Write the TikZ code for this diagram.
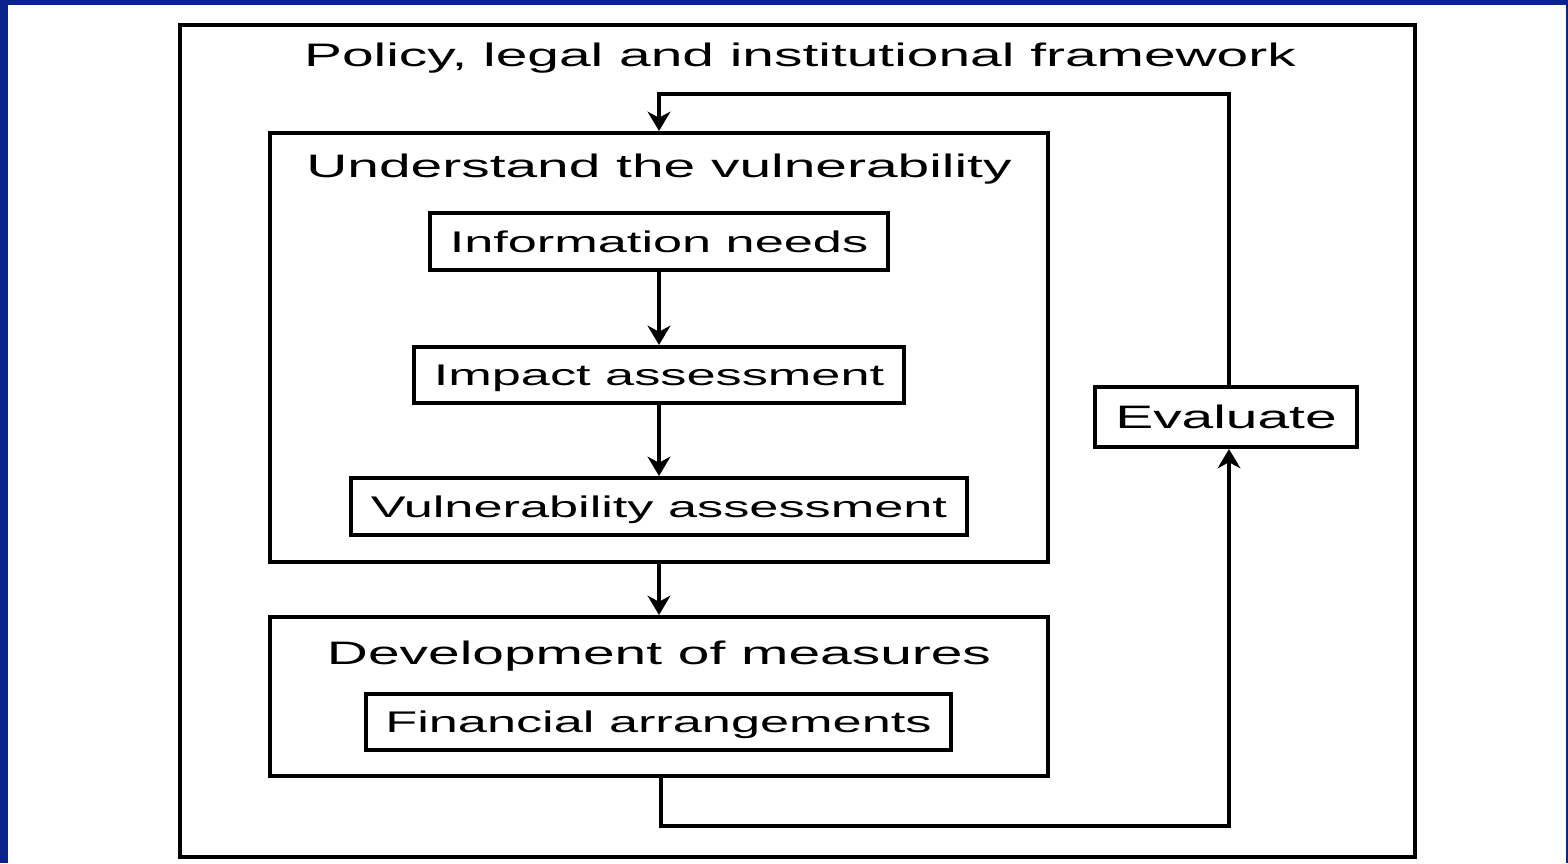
\documentclass[tikz,border=0pt]{standalone}
\usepackage{fontspec}
\setmainfont[FakeStretch=1.75]{Liberation Sans}
\usetikzlibrary{positioning, arrows.meta}
\definecolor{slideblue}{RGB}{12,34,140}
\newcommand{\bigtext}{\fontsize{18.5pt}{21pt}\selectfont}
\newcommand{\smalltext}{\fontsize{17pt}{20pt}\selectfont}
\tikzset{
    box/.style={draw, line width=2.3pt, inner sep=0pt, text height=12.4pt, text depth=0pt, font=\smalltext},
    heading/.style={inner sep=0pt, text height=13pt, text depth=0pt, font=\bigtext},
    flow/.style={line width=2pt, -{Stealth[length=11pt, width=13pt, inset=3.5pt]}},
}

\begin{document}
\begin{tikzpicture}
    \useasboundingbox (0,0) rectangle (31.36,17.26);
    % slide border
    \fill[slideblue] (0,0) rectangle (31.36,17.26);
    \fill[white] (0.16,0) rectangle (31.32,17.16);
    % outer frame
    \node (frame) [box, minimum width=24.7cm, minimum height=16.64cm] at (15.95,8.44) {};
    \node (frametitle) [heading] at (16.0,16.16) {Policy, legal and institutional framework};
    % understand the vulnerability
    \node (under) [box, minimum width=15.56cm, minimum height=8.58cm] at (13.18,10.31) {};
    \node (undertitle) [heading] at (13.18,13.93) {Understand the vulnerability};
    \node (info) [box, minimum width=9.16cm, minimum height=1.14cm] at (13.18,12.43) {Information needs};
    \node (impact) [box, minimum width=9.8cm, minimum height=1.12cm] at (13.18,9.76) {Impact assessment};
    \node (vuln) [box, minimum width=12.32cm, minimum height=1.14cm] at (13.18,7.13) {Vulnerability assessment};
    % development of measures
    \node (dev) [box, minimum width=15.56cm, minimum height=3.18cm] at (13.18,3.33) {};
    \node (devtitle) [heading] at (13.18,4.19) {Development of measures};
    \node (finance) [box, minimum width=11.7cm, minimum height=1.12cm] at (13.17,2.82) {Financial arrangements};
    % evaluation
    \node (eval) [box, font=\bigtext, text height=13pt, minimum width=5.24cm, minimum height=1.2cm] at (24.52,8.92) {Evaluate};
    \coordinate (lowturn) at (13.22,0.74);
    \coordinate (topturn) at (24.58,15.38);
    % arrows
    \draw[flow] (info) -- (impact);
    \draw[flow] (impact) -- (vuln);
    \draw[flow] (under) -- (dev);
    \draw[flow] (dev.south -| lowturn) -- (lowturn) -| (eval.south -| topturn);
    \draw[flow] (eval.north -| topturn) -- (topturn) -| (under.north);
\end{tikzpicture}
\end{document}
